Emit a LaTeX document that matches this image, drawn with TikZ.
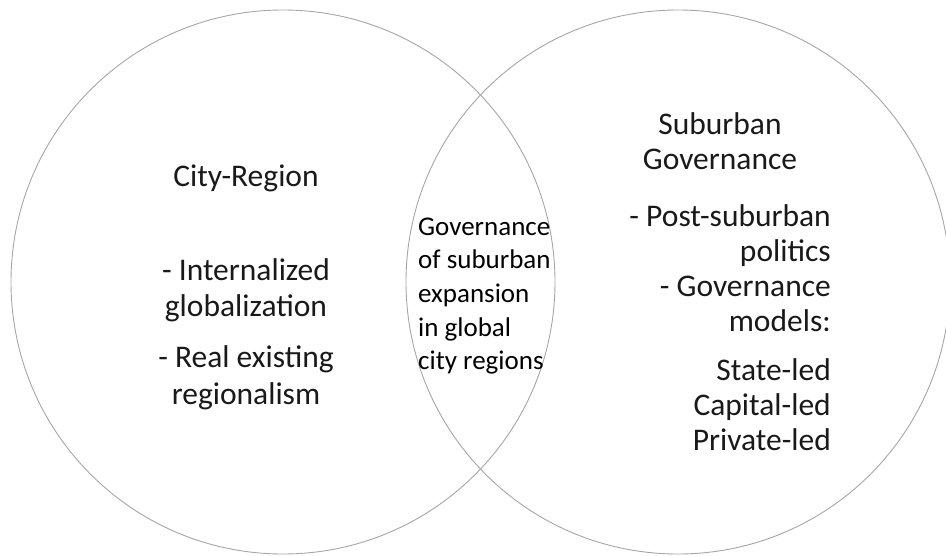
\documentclass[tikz,border=0pt]{standalone}
\usepackage{fontspec}
\setmainfont{Carlito}
\begin{document}
\begin{tikzpicture}[x=1pt,y=-1pt,
  ring/.style={circle,draw=black!35,line width=0.9pt,minimum size=544pt,inner sep=0pt},
  big/.style={inner sep=0pt,font=\fontsize{31.5}{35}\selectfont,text=black!90},
  bigl/.style={inner sep=0pt,font=\fontsize{31.5}{36.5}\selectfont,text=black!90},
  mid/.style={inner sep=0pt,font=\fontsize{27}{33.7}\selectfont,text=black}]
\useasboundingbox (0,0) rectangle (946,556);
\node[ring] (L) at (283,282) {};
\node[ring] (R) at (678,282) {};
% left
\node[bigl,anchor=base,align=center] (t1) at (246,187) {City-Region};
\node[bigl,anchor=base,align=center] (l1) at (246,317) {- Internalized\\globalization};
\node[bigl,anchor=base,align=center] (l2) at (246,404) {- Real existing\\regionalism};
% middle
\node[mid,anchor=base west,align=left] (m) at (418,370) {Governance\\of suburban\\expansion\\in global\\city regions};
% right
\node[big,anchor=base,align=center] (t2) at (720,170) {Suburban\\Governance};
\node[big,anchor=base east,align=right] (r1) at (831,331) {- Post-suburban\\politics\\- Governance\\models:};
\node[big,anchor=base east,align=right] (r2) at (831,450) {State-led\\Capital-led\\Private-led};
\end{tikzpicture}
\end{document}
